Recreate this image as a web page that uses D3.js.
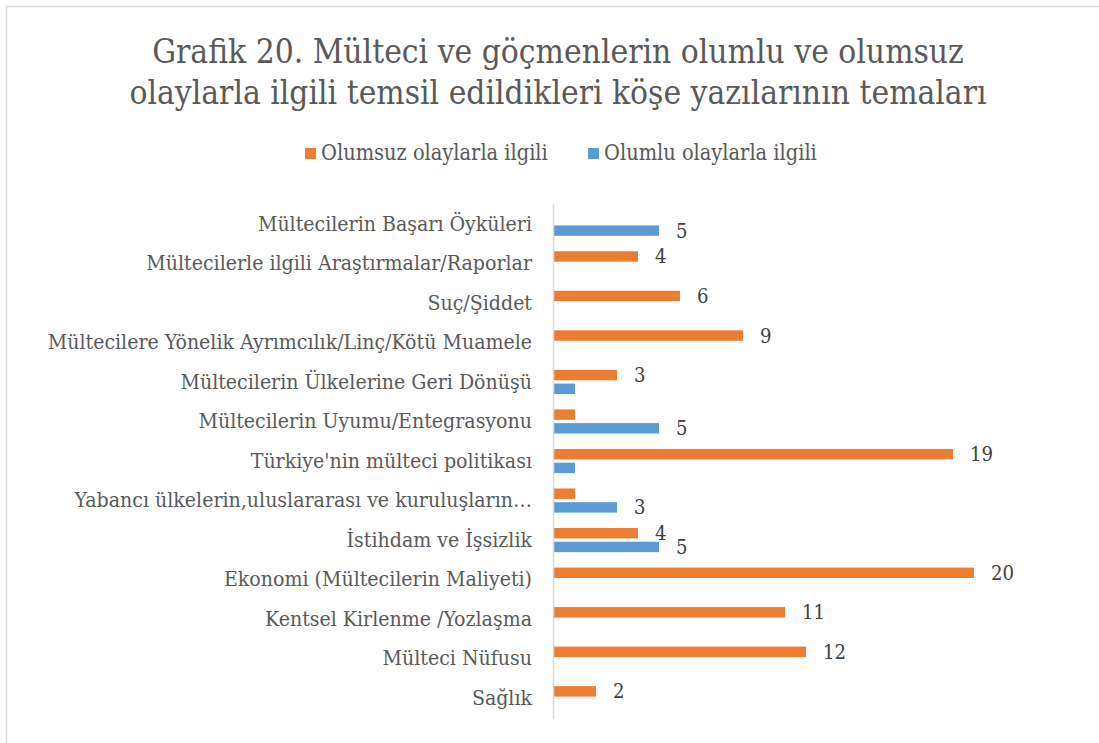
<!DOCTYPE html>
<html>
<head>
<meta charset="utf-8">
<script src="https://cdn.jsdelivr.net/npm/d3@7"></script>
<style>
  body { margin: 0; background: #fff; }
  svg text { font-family: "DejaVu Serif Condensed", "DejaVu Serif", serif; font-stretch: condensed; }
</style>
</head>
<body>
<div id="chart"></div>
<script>
// chart data
var categories = [
  "Mültecilerin Başarı Öyküleri",
  "Mültecilerle ilgili Araştırmalar/Raporlar",
  "Suç/Şiddet",
  "Mültecilere Yönelik Ayrımcılık/Linç/Kötü Muamele",
  "Mültecilerin Ülkelerine Geri Dönüşü",
  "Mültecilerin Uyumu/Entegrasyonu",
  "Türkiye'nin mülteci politikası",
  "Yabancı ülkelerin,uluslararası ve kuruluşların…",
  "İstihdam ve İşsizlik",
  "Ekonomi (Mültecilerin Maliyeti)",
  "Kentsel Kirlenme /Yozlaşma",
  "Mülteci Nüfusu",
  "Sağlık"
];
var seriesNames = ["Olumsuz olaylarla ilgili", "Olumlu olaylarla ilgili"];
var olumsuz = [0, 4, 6, 9, 3, 1, 19, 1, 4, 20, 11, 12, 2];
var olumlu  = [5, 0, 0, 0, 1, 5, 1, 3, 5, 0, 0, 0, 0];
var colors = ["#ED7D31", "#5B9BD5"];
var titleLines = [
  "Grafik 20. Mülteci ve göçmenlerin olumlu ve olumsuz",
  "olaylarla ilgili temsil edildikleri köşe yazılarının temaları"
];
// labels that the original chart shows (1s were left unlabeled)
var showLabel = function(v) { return v > 1; };

var svgWidth = 1099;
var svgHeight = 743;

var svg = d3.select("#chart")
  .append("svg")
  .attr("width", svgWidth)
  .attr("height", svgHeight);

// pick a font size so that a sample string gets the width it has in the original
function fitSize(str, target) {
  var t = svg.append("text").attr("font-size", 100).text(str);
  var w = t.node().getComputedTextLength();
  t.remove();
  return 100 * target / w;
}
var titleSize = fitSize(titleLines[0], 812);
var legendSize = fitSize(seriesNames[0], 227);
var catSize = fitSize(categories[1], 386);
var valSize = fitSize("19", 23);

// chart border (runs off the right and bottom edges)
svg.append("rect")
  .attr("x", 6.5)
  .attr("y", 6.5)
  .attr("width", 1200)
  .attr("height", 900)
  .attr("fill", "none")
  .attr("stroke", "#d9d9d9")
  .attr("stroke-width", 1.5);

// title
var title = svg.append("text")
  .attr("text-anchor", "middle")
  .attr("fill", "#595959")
  .attr("font-size", titleSize);
title.selectAll("tspan")
  .data(titleLines)
  .enter()
  .append("tspan")
  .attr("x", 558)
  .attr("y", (d, i) => 63 + i * 41)
  .text(d => d);

// legend
var legendItems = [
  { name: seriesNames[0], color: colors[0], x: 305 },
  { name: seriesNames[1], color: colors[1], x: 588 }
];
var legend = svg.append("g");
legend.selectAll("rect")
  .data(legendItems)
  .enter()
  .append("rect")
  .attr("x", d => d.x)
  .attr("y", 148)
  .attr("width", 11)
  .attr("height", 11)
  .attr("fill", d => d.color);
legend.selectAll("text")
  .data(legendItems)
  .enter()
  .append("text")
  .attr("x", d => d.x + 16)
  .attr("y", 160)
  .attr("fill", "#595959")
  .attr("font-size", legendSize)
  .text(d => d.name);

// scales
var xScale = d3.scaleLinear()
  .domain([0, 20])
  .range([554, 974]);

var yScale = d3.scaleBand()
  .domain(categories)
  .range([204, 718])
  .paddingInner(0.39)
  .paddingOuter(0.195);

var ySub = d3.scaleBand()
  .domain(seriesNames)
  .range([0, yScale.bandwidth()])
  .paddingInner(0.24);

var rows = categories.map((c, i) => ({
  cat: c,
  values: [
    { series: seriesNames[0], value: olumsuz[i], color: colors[0] },
    { series: seriesNames[1], value: olumlu[i], color: colors[1] }
  ]
}));

var groups = svg.append("g")
  .selectAll("g")
  .data(rows)
  .enter()
  .append("g")
  .attr("transform", d => `translate(0, ${yScale(d.cat)})`);

groups.selectAll("rect")
  .data(d => d.values.filter(v => v.value > 0))
  .enter()
  .append("rect")
  .attr("x", xScale(0))
  .attr("y", d => ySub(d.series))
  .attr("width", d => xScale(d.value) - xScale(0))
  .attr("height", ySub.bandwidth())
  .attr("fill", d => d.color);

groups.selectAll("text.val")
  .data(d => d.values.filter(v => showLabel(v.value)))
  .enter()
  .append("text")
  .attr("class", "val")
  .attr("x", d => xScale(d.value) + 17)
  .attr("y", d => ySub(d.series) + ySub.bandwidth() / 2)
  .attr("dy", "0.35em")
  .attr("fill", "#404040")
  .attr("font-size", valSize)
  .text(d => d.value);

// y axis with category labels
var leftAxis = d3.axisLeft(yScale).tickSize(0).tickPadding(21);
var yAxis = svg.append("g")
  .attr("transform", `translate(553, 0)`)
  .call(leftAxis)
  .attr("font-size", catSize);
yAxis.select(".domain")
  .attr("stroke", "#d9d9d9")
  .attr("stroke-width", 1.5);
yAxis.selectAll("text")
  .attr("fill", "#595959");
</script>
</body>
</html>
